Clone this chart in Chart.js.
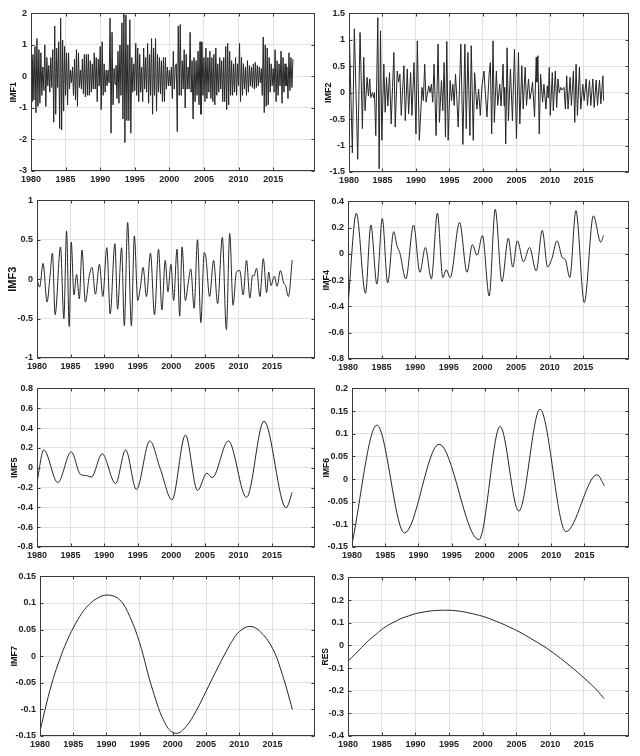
<!DOCTYPE html>
<html><head><meta charset="utf-8">
<script src="https://cdn.jsdelivr.net/npm/chart.js@4.4.0/dist/chart.umd.min.js"></script>
<style>
html,body{margin:0;padding:0;background:#fff;}
#wrap{position:relative;width:640px;height:756px;overflow:hidden;background:#fff;}
#wrap canvas{position:absolute;}
</style></head><body><div id="wrap"></div>
<script>
// ---------------- DATA ----------------
const xTickYears = [1980, 1985, 1990, 1995, 2000, 2005, 2010, 2015];

// IMF1: sampled 7 times per year from 1980
const imf1Start = 1980, imf1PerYear = 7;
const imf1Values = [
 0.55,-0.8,0.7,-0.75,0.95,-1.15,1.2,
 -0.95,0.85,-0.85,0.75,-0.6,0.3,-0.45,
 1.0,-0.95,0.6,-0.3,0.35,-0.5,0.6,
 -0.35,0.85,-1.45,1.6,-1.2,0.9,-0.35,
 1.1,-1.65,1.85,-1.7,1.15,-1.1,0.95,
 -0.6,0.75,-0.9,0.75,-0.4,0.2,-0.2,
 0.3,-0.6,0.55,-0.75,0.85,-0.95,0.75,
 -0.35,0.2,-0.4,0.55,-0.55,0.7,-0.65,
 0.7,-0.6,0.7,-0.6,0.5,-0.5,0.4,
 -0.4,0.75,-0.4,0.6,-0.8,0.55,-0.3,
 0.95,-1.05,1.1,-0.6,0.4,-0.5,0.2,
 -0.3,0.2,-0.2,1.85,-1.8,1.4,-0.9,
 0.25,-0.25,0.35,-0.7,0.8,-0.85,1.0,
 -0.6,1.7,-1.35,2.0,-2.1,1.95,-1.4,
 1.0,-1.4,1.8,-1.8,0.6,-0.5,0.4,
 -0.45,1.05,-0.6,0.9,-0.8,0.7,-0.5,
 0.3,-0.8,0.9,-0.4,0.6,-0.5,1.05,
 -0.85,0.7,-0.6,1.2,-1.2,0.9,-0.6,
 1.2,-1.1,0.7,-0.5,0.6,-0.55,0.5,
 -0.8,0.6,-0.8,0.6,-0.4,0.3,-0.3,
 0.2,-0.3,0.3,-0.7,0.8,-0.4,0.3,
 0.4,-1.75,1.6,-0.6,1.65,-0.6,0.5,
 -0.4,0.85,-1.0,0.7,-0.4,0.3,-0.4,
 1.4,-0.5,0.5,-1.35,0.6,-0.8,0.5,
 -0.6,0.8,-0.9,1.1,-1.2,1.1,-0.6,
 0.6,-0.8,0.9,-0.7,0.6,-0.5,0.8,
 -0.7,0.6,-0.8,0.7,-0.9,0.9,-0.6,
 0.4,-0.5,0.6,-0.4,0.5,-0.8,0.6,
 -0.8,0.95,-1.05,1.05,-0.9,0.8,-0.6,
 0.5,-0.6,0.4,-0.5,0.6,-0.6,0.4,
 -0.3,1.05,-0.8,0.6,-0.6,0.4,-0.4,
 0.3,-0.6,0.5,-0.5,0.35,-0.3,0.3,
 -0.35,0.4,-0.4,0.45,-0.35,0.35,-0.3,
 0.3,-0.2,0.25,-0.6,1.25,-1.15,1.0,
 -0.95,0.9,-0.9,0.6,-0.5,0.4,-0.3,
 0.25,-0.5,0.85,-0.8,0.5,-0.6,0.4,
 -0.3,0.8,-0.85,0.6,-0.5,0.4,-0.3,
 0.3,-0.7,0.75,-0.45,0.6,-0.35,0.55
];

const imf2Years = [
 1980.0,1980.08,1980.5,1980.8,1981.3,1981.65,1982.0,1982.2,1982.4,1982.7,
 1982.9,1983.1,1983.25,1983.5,1983.7,1983.8,1984.0,1984.3,1984.5,1984.7,
 1984.9,1985.2,1985.4,1985.6,1985.8,1986.05,1986.3,1986.5,1986.7,1986.9,
 1987.2,1987.4,1987.6,1987.8,1988.0,1988.2,1988.4,1988.7,1988.9,1989.2,
 1989.4,1989.7,1990.0,1990.2,1990.5,1990.9,1991.1,1991.3,1991.5,1991.9,
 1992.1,1992.3,1992.5,1992.7,1993.0,1993.3,1993.5,1993.8,1994.0,1994.2,
 1994.4,1994.6,1994.8,1995.1,1995.3,1995.5,1995.7,1995.9,1996.1,1996.3,
 1996.7,1997.0,1997.3,1997.5,1997.75,1998.05,1998.25,1998.55,1998.75,1999.1,
 1999.35,1999.6,1999.85,2000.15,2000.35,2000.6,2000.9,2001.1,2001.3,2001.5,
 2001.7,2002.0,2002.2,2002.5,2002.7,2003.0,2003.15,2003.25,2003.4,2003.6,
 2003.8,2004.1,2004.4,2004.7,2005.0,2005.3,2005.5,2005.8,2006.0,2006.3,
 2006.5,2006.8,2007.0,2007.2,2007.4,2007.7,2007.95,2008.05,2008.2,2008.4,
 2008.6,2008.9,2009.1,2009.4,2009.6,2009.75,2009.9,2010.05,2010.35,2010.5,
 2010.8,2011.0,2011.2,2011.4,2011.6,2011.8,2012.1,2012.3,2012.5,2012.7,
 2013.0,2013.2,2013.5,2013.7,2013.9,2014.1,2014.4,2014.6,2014.9,2015.1,
 2015.4,2015.6,2015.9,2016.1,2016.4,2016.6,2016.9,2017.1,2017.4,2017.6,
 2017.9,2018.0
];
const imf2Values = [
 0.4,0.95,-1.14,1.21,-1.26,1.14,-0.68,0.67,-0.34,0.29,
 -0.06,0.26,-0.09,0.0,-0.1,0.0,-0.81,1.42,-1.44,1.17,
 -0.9,0.54,-0.37,0.29,-0.25,0.38,-0.59,0.1,0.76,-0.65,
 0.41,0.2,0.35,-0.43,0.05,0.51,-0.53,0.45,-0.4,0.38,
 -0.43,0.57,-0.78,0.98,-0.9,0.1,-0.15,0.54,-0.18,0.13,
 0.0,0.16,-0.18,0.54,-0.81,0.92,-0.56,0.23,-0.34,0.57,
 -0.84,0.97,-0.9,0.23,-0.15,0.16,-0.24,0.35,-0.1,-0.65,
 0.92,-0.98,0.92,-0.68,0.76,-0.81,0.89,-0.9,0.38,-0.31,
 0.07,-0.43,0.13,0.41,0.0,-0.46,0.32,0.57,-0.78,0.98,
 -0.56,0.41,-0.24,0.16,-0.25,0.54,-0.25,0.1,-0.97,0.85,
 -0.53,0.45,-0.53,0.82,-0.87,0.76,-0.59,0.51,-0.31,0.48,
 -0.24,0.26,-0.12,0.0,0.2,-0.46,0.67,0.2,0.7,-0.78,
 0.35,-0.18,0.16,-0.31,0.13,-0.1,0.48,-0.43,0.38,-0.34,
 0.41,-0.28,0.26,0.0,0.1,0.05,0.1,-0.31,0.32,-0.31,
 0.29,-0.24,0.41,-0.56,0.54,-0.43,0.48,-0.31,0.16,-0.15,
 0.26,-0.24,0.23,-0.24,0.26,-0.28,0.24,-0.24,0.24,-0.21,
 0.32,-0.15
];

const imf3Years = [
 1980.0,1980.4,1980.9,1981.5,1981.9,1982.3,1982.7,1983.5,1984.0,1984.4,
 1984.8,1985.1,1985.5,1985.9,1986.3,1986.7,1987.2,1987.8,1988.2,1988.7,
 1989.3,1989.8,1990.4,1990.9,1991.6,1992.0,1992.6,1993.0,1993.5,1994.05,
 1994.5,1995.0,1995.4,1995.8,1996.3,1996.9,1997.5,1998.1,1998.6,1999.1,
 1999.5,1999.95,2000.35,2000.85,2001.25,2001.6,2002.1,2002.5,2002.9,2003.4,
 2003.9,2004.4,2004.9,2005.15,2005.7,2006.3,2006.9,2007.6,2008.2,2008.7,
 2009.2,2009.7,2010.2,2010.7,2011.2,2011.7,2012.1,2012.3,2012.7,2013.2,
 2013.7,2014.2,2014.5,2014.85,2015.35,2015.75,2016.25,2016.75,2017.0,2017.45,
 2018.0
];
const imf3Values = [
 0.0,-0.1,0.2,-0.29,0.0,0.33,-0.45,0.41,-0.5,0.61,
 -0.6,0.47,-0.2,0.06,-0.25,0.37,-0.29,0.05,0.15,-0.19,
 0.19,-0.22,0.4,-0.44,0.45,-0.38,0.4,-0.59,0.72,-0.59,
 0.55,-0.27,-0.1,0.15,-0.22,0.33,-0.45,0.38,-0.39,0.24,
 -0.16,0.19,-0.27,0.38,-0.47,0.41,-0.27,-0.06,0.13,-0.37,
 0.5,-0.55,0.34,0.28,-0.22,0.24,-0.31,0.53,-0.64,0.58,
 -0.33,0.09,0.11,-0.2,0.24,-0.24,0.05,0.04,0.14,-0.22,
 0.26,-0.17,0.09,-0.08,0.04,-0.09,0.11,-0.05,-0.08,-0.22,
 0.24
];

const imf4Years = [
 1980.0,1981.25,1982.6,1983.4,1984.3,1985.1,1985.9,1986.8,1987.3,1987.7,
 1988.6,1989.75,1990.7,1991.5,1992.4,1993.3,1994.1,1994.6,1995.2,1996.6,
 1997.7,1998.5,1999.2,2000.0,2001.0,2001.9,2002.9,2003.85,2004.5,2005.2,
 2006.1,2007.0,2008.0,2008.9,2009.7,2010.3,2011.1,2011.9,2012.3,2013.0,
 2013.9,2015.15,2016.5,2017.6,2018.0
];
const imf4Values = [
 -0.39,0.31,-0.3,0.22,-0.23,0.27,-0.22,0.17,0.06,0.01,
 -0.19,0.22,-0.14,0.05,-0.19,0.31,-0.18,-0.12,-0.18,0.24,
 -0.14,0.07,-0.01,0.14,-0.32,0.34,-0.21,0.12,-0.1,0.1,
 -0.06,0.05,-0.13,0.18,-0.1,-0.04,0.1,-0.03,-0.04,-0.18,
 0.33,-0.37,0.29,0.09,0.14
];

const imf5Years = [1980.0,1981.0,1983.1,1985.1,1986.5,1987.4,1988.1,1989.7,1991.7,1993.2,
 1994.8,1996.8,1998.4,2000.1,2002.1,2003.9,2005.3,2006.1,2008.5,2011.2,2013.8,2017.1,2018.0];
const imf5Values = [-0.15,0.18,-0.15,0.16,-0.07,-0.08,-0.095,0.14,-0.16,0.18,
 -0.22,0.27,-0.02,-0.325,0.33,-0.23,-0.055,-0.1,0.27,-0.3,0.47,-0.405,-0.25];

const imf6Years = [1980.0,1983.75,1987.9,1993.1,1999.1,2002.3,2005.1,2008.3,2012.2,2016.9,2018.0];
const imf6Values = [-0.143,0.119,-0.119,0.077,-0.134,0.116,-0.071,0.154,-0.116,0.0095,-0.015];

const imf7Years = [1980,1981,1982,1983,1984,1985,1986,1987,1988.5,1990.2,1992,1993.5,1995,1997,1999,2000.5,
 2002,2003.5,2005,2006.5,2008,2009,2010,2011.5,2013,2015,2016.5,2018];
const imf7Values = [-0.141,-0.088,-0.042,-0.005,0.027,0.053,0.075,0.092,0.108,0.115,0.106,0.075,0.025,-0.065,-0.13,-0.145,
 -0.132,-0.103,-0.066,-0.028,0.008,0.03,0.046,0.056,0.048,0.015,-0.035,-0.1];

const resYears = [1980,1981,1982,1983,1984,1985,1986,1987,1988,1989,1990,1991,1992,1993,1994,1995,1996,1997,1998,1999,
 2000,2001,2002,2003,2004,2005,2006,2007,2008,2009,2010,2011,2012,2013,2014,2015,2016,2017,2018];
const resValues = [-0.07,-0.04,-0.01,0.02,0.045,0.07,0.09,0.105,0.12,0.13,0.14,0.146,0.151,0.154,0.155,0.155,0.153,0.149,0.143,0.136,
 0.128,0.118,0.106,0.094,0.08,0.066,0.05,0.033,0.015,-0.003,-0.023,-0.045,-0.068,-0.092,-0.117,-0.143,-0.17,-0.2,-0.235];

const seriesNames = ['IMF1','IMF2','IMF3','IMF4','IMF5','IMF6','IMF7','RES'];
const yRanges = [[-3,2,1],[-1.5,1.5,0.5],[-1,1,0.5],[-0.8,0.4,0.2],[-0.8,0.8,0.2],[-0.15,0.2,0.05],[-0.15,0.15,0.05],[-0.4,0.3,0.1]];

// ---------------- BUILD ----------------
function zip(t, v){ const n=Math.min(t.length,v.length); const o=[]; for(let i=0;i<n;i++) o.push({x:t[i],y:v[i]}); return o; }
function uniform(vals, start, perYear){ return vals.map((v,i)=>({x:start+i/perYear, y:v})); }

const seriesData = [
  uniform(imf1Values, imf1Start, imf1PerYear),
  zip(imf2Years, imf2Values),
  zip(imf3Years, imf3Values),
  zip(imf4Years, imf4Values),
  zip(imf5Years, imf5Values),
  zip(imf6Years, imf6Values),
  zip(imf7Years, imf7Values),
  zip(resYears, resValues)
];

// layout (plot area in page pixels) and styling
const layoutBoxes = [
  {L:31, R:315, T:12,  B:171, xmax:2021.05, tSize:9,   tPad:7.9},
  {L:349,R:629, T:12,  B:172, xmax:2021.8,  tSize:9,   tPad:2.9},
  {L:37, R:315, T:199, B:358, xmax:2021.4,  tSize:11,  tPad:6.7},
  {L:348,R:629, T:200, B:359, xmax:2021.8,  tSize:9,   tPad:1.6},
  {L:37, R:315, T:387, B:547, xmax:2021.4,  tSize:9,   tPad:8.8},
  {L:352,R:629, T:387, B:547, xmax:2021.7,  tSize:8.5, tPad:1.2},
  {L:40, R:315, T:575, B:736, xmax:2021.4,  tSize:9,   tPad:9.1},
  {L:348,R:629, T:576, B:736, xmax:2021.7,  tSize:8.5, tPad:0.7}
];
// interpolation: 'none' straight segments, 'mono' monotone cubic, 'tens' tension curve
const interp = ['none','none','mono','mono','mono','mono','tens','tens'];

const FONT = "'Liberation Sans', Arial, sans-serif";
const boxPlugin = {
  id:'boxFrame',
  afterDraw(chart){
    const {ctx, chartArea:a, scales} = chart;
    ctx.save();
    ctx.strokeStyle = '#3a3a3a'; ctx.lineWidth = 1;
    const l=Math.round(a.left)+0.5, t=Math.round(a.top)+0.5, r=Math.round(a.right)-0.5, b=Math.round(a.bottom)-0.5;
    ctx.strokeRect(l, t, r-l, b-t);
    const tl = 3;
    ctx.beginPath();
    scales.x.ticks.forEach(tk=>{ const px=Math.round(scales.x.getPixelForValue(tk.value))+0.5;
      ctx.moveTo(px,b); ctx.lineTo(px,b-tl); ctx.moveTo(px,t); ctx.lineTo(px,t+tl); });
    scales.y.ticks.forEach(tk=>{ const py=Math.round(scales.y.getPixelForValue(tk.value))+0.5;
      ctx.moveTo(l,py); ctx.lineTo(l+tl,py); ctx.moveTo(r,py); ctx.lineTo(r-tl,py); });
    ctx.stroke();
    ctx.restore();
  }
};

const wrap = document.getElementById('wrap');
const PAD_TOP = 8, X_AXIS_H = 18;
seriesNames.forEach((name, i) => {
  const p = layoutBoxes[i];
  const col = p.L < 320 ? 0 : 320;
  const cv = document.createElement('canvas');
  const w = 320, h = (p.B - p.T) + PAD_TOP + X_AXIS_H;
  cv.width = w; cv.height = h;
  cv.style.left = col + 'px'; cv.style.top = (p.T - PAD_TOP) + 'px';
  cv.style.width = w + 'px'; cv.style.height = h + 'px';
  wrap.appendChild(cv);
  const [ymin, ymax, ystep] = yRanges[i];
  new Chart(cv, {
    type: 'line',
    data: { datasets: [{
      data: seriesData[i],
      borderColor: '#262626',
      borderWidth: 1,
      pointRadius: 0,
      fill: false,
      tension: interp[i] === 'tens' ? 0.4 : 0,
      cubicInterpolationMode: interp[i] === 'mono' ? 'monotone' : 'default'
    }]},
    options: {
      responsive: false,
      animation: false,
      events: [],
      layout: { padding: { left: 0, right: col + 320 - p.R, top: PAD_TOP, bottom: 0 } },
      plugins: { legend: { display: false }, tooltip: { enabled: false } },
      scales: {
        x: {
          type: 'linear', min: 1980, max: p.xmax,
          afterBuildTicks: s => { s.ticks = xTickYears.map(v => ({ value: v })); },
          afterFit: s => { s.height = X_AXIS_H; },
          ticks: { autoSkip: false, maxRotation: 0, padding: 3, color: '#222',
                   font: { family: FONT, size: 9, weight: 'bold' },
                   callback: v => String(v) },
          grid: { color: '#e2e2e2', lineWidth: 1, drawTicks: false },
          border: { display: false }
        },
        y: {
          type: 'linear', min: ymin, max: ymax,
          afterFit: s => { s.width = p.L - col; },
          ticks: { stepSize: ystep, padding: 4, color: '#222',
                   font: { family: FONT, size: 9, weight: 'bold' },
                   callback: v => String(+Number(v).toFixed(3)) },
          grid: { color: '#e2e2e2', lineWidth: 1, drawTicks: false },
          border: { display: false },
          title: { display: true, text: name, color: '#111',
                   font: { family: FONT, size: p.tSize, weight: 'bold' },
                   padding: { top: p.tPad, bottom: 0 } }
        }
      }
    },
    plugins: [boxPlugin]
  });
});
</script></body></html>
